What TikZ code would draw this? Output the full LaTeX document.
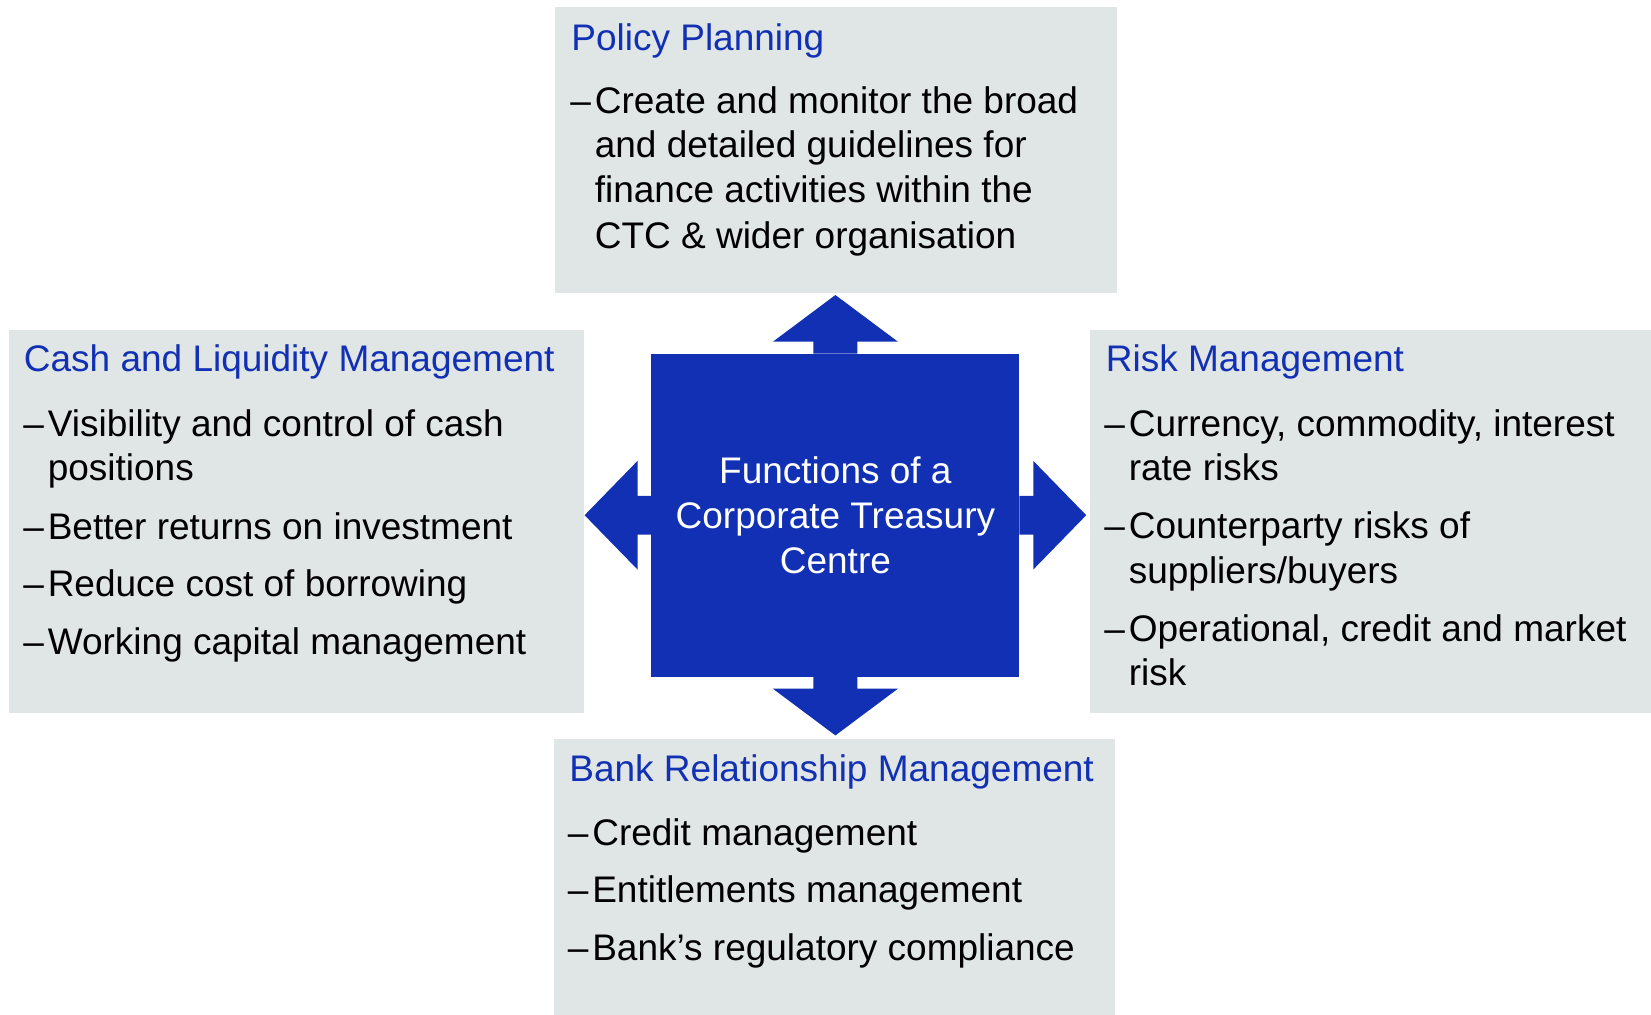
\documentclass[tikz,border=0pt]{standalone}
\usepackage{fontspec}
\setmainfont{Liberation Sans}
\usepackage{tikz}
\usetikzlibrary{positioning}

\definecolor{ctcblue}{RGB}{17,48,180}
\definecolor{panelgrey}{RGB}{224,229,229}
\newcommand{\dashitem}{\makebox[12.2pt][l]{–}}

\begin{document}
\begin{tikzpicture}[x=0.5pt,y=-0.5pt,
  panel/.style={fill=panelgrey, inner sep=0, outer sep=0},
  hub/.style={fill=ctcblue, text=white, inner sep=0, outer sep=0, align=center, font=\fontsize{18.5}{22.5}\selectfont},
  headtxt/.style={anchor=base west, inner sep=0, text=ctcblue, font=\fontsize{18.5}{22}\selectfont},
  itemtxt/.style={anchor=base west, inner sep=0, font=\fontsize{18.5}{22}\selectfont}]
\useasboundingbox (0,0) rectangle (1651,1014);

% grey boxes
\node[panel, minimum width=281pt, minimum height=142.75pt] (policy) at (836,149.75) {};
\node[panel, minimum width=287.25pt, minimum height=191.5pt] (cash) at (296.25,521.5) {};
\node[panel, minimum width=281pt, minimum height=191.5pt] (risk) at (1371,521.5) {};
\node[panel, minimum width=280.5pt, minimum height=139pt] (bank) at (834.5,878) {};

% centre square
\node[hub, minimum width=184pt, minimum height=161.5pt] (ctc) at (835.4,515.2) {Functions of a\\Corporate Treasury\\Centre};

% arrows
\fill[ctcblue] (ctc.north) ++(-22,0) -- ++(0,-12) -- ++(-40.5,0) -- ++(62.5,-46.7) -- ++(62.5,46.7) -- ++(-40.5,0) -- ++(0,12) -- cycle;
\fill[ctcblue] (ctc.south) ++(-22,0) -- ++(0,12) -- ++(-40.5,0) -- ++(62.5,46.7) -- ++(62.5,-46.7) -- ++(-40.5,0) -- ++(0,-12) -- cycle;
\fill[ctcblue] (ctc.west) ++(0,-19.3) -- ++(-13.9,0) -- ++(0,-35) -- ++(-52.9,54.3) -- ++(52.9,54.3) -- ++(0,-35) -- ++(13.9,0) -- cycle;
\fill[ctcblue] (ctc.east) ++(0,-19.3) -- ++(13.9,0) -- ++(0,-35) -- ++(52.9,54.3) -- ++(-52.9,54.3) -- ++(0,-35) -- ++(-13.9,0) -- cycle;

% policy planning
\node[headtxt] (pp0) at (571,50) {Policy Planning};
\node[itemtxt] (pp1) at (570,113.3) {\dashitem Create and monitor the broad};
\node[itemtxt] (pp2) at (594.4,157.3) {and detailed guidelines for};
\node[itemtxt] (pp3) at (594.4,202.7) {finance activities within the};
\node[itemtxt] (pp4) at (594.4,248.3) {CTC \& wider organisation};

% cash and liquidity
\node[headtxt] (cl0) at (23.5,371.7) {Cash and Liquidity Management};
\node[itemtxt] (cl1) at (23,436.5) {\dashitem Visibility and control of cash};
\node[itemtxt] (cl2) at (47.4,480) {positions};
\node[itemtxt] (cl3) at (23,539.3) {\dashitem Better returns on investment};
\node[itemtxt] (cl4) at (23,596.7) {\dashitem Reduce cost of borrowing};
\node[itemtxt] (cl5) at (23,654.3) {\dashitem Working capital management};

% risk management
\node[headtxt] (rm0) at (1105.5,371.7) {Risk Management};
\node[itemtxt] (rm1) at (1104,436) {\dashitem Currency, commodity, interest};
\node[itemtxt] (rm2) at (1128.4,480) {rate risks};
\node[itemtxt] (rm3) at (1104,538.3) {\dashitem Counterparty risks of};
\node[itemtxt] (rm4) at (1128.4,583.3) {suppliers/buyers};
\node[itemtxt] (rm5) at (1104,641.7) {\dashitem Operational, credit and market};
\node[itemtxt] (rm6) at (1128.4,685) {risk};

% bank relationship
\node[headtxt] (br0) at (569,781.7) {Bank Relationship Management};
\node[itemtxt] (br1) at (567.5,845) {\dashitem Credit management};
\node[itemtxt] (br2) at (567.5,902.7) {\dashitem Entitlements management};
\node[itemtxt] (br3) at (567.5,960) {\dashitem Bank’s regulatory compliance};
\end{tikzpicture}
\end{document}
